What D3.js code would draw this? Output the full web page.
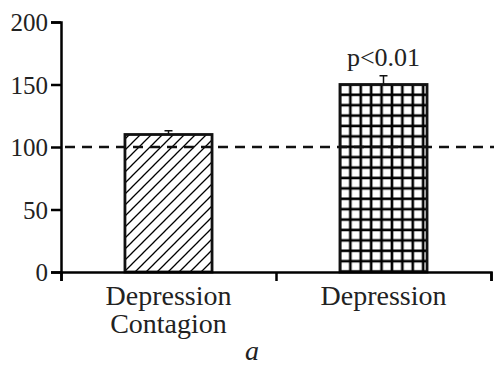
<!DOCTYPE html>
<html>
<head>
<meta charset="utf-8">
<script src="https://cdn.jsdelivr.net/npm/d3@7"></script>
<style>
  html, body { margin: 0; padding: 0; background: #fff; }
  svg { display: block; }
  svg text { font-family: 'Liberation Serif', 'Times New Roman', serif; }
</style>
</head>
<body>
<svg width="494" height="368"></svg>
<script>
// data
const categories = ['Depression Contagion', 'Depression']
const labelLines = [['Depression', 'Contagion'], ['Depression']]
const values = [110, 150]
const errors = [3, 7]
const patterns = ['hatch', 'grid']
const yTicks = [0, 50, 100, 150, 200]
const baseline = 100
const note = 'p<0.01'
const panel = 'a'

const margin = { top: 22, right: 3, bottom: 96, left: 61 }
const width = 494
const height = 368
const serif = "'Liberation Serif', 'Times New Roman', serif"

const svg = d3.select('svg')

const x = d3.scaleBand()
  .domain(categories)
  .range([margin.left, width - margin.right])
  .padding(0)

const y = d3.scaleLinear()
  .domain([0, 200])
  .range([height - margin.bottom, margin.top])

const barW = x.bandwidth() * 0.405

// fill patterns
const defs = svg.append('defs')
const hatch = defs.append('pattern')
  .attr('id', 'hatch')
  .attr('patternUnits', 'userSpaceOnUse')
  .attr('width', 11).attr('height', 11)
hatch.append('path')
  .attr('d', 'M-1,12 L12,-1 M-1,1 L1,-1 M10,12 L12,10')
  .attr('stroke', '#000').attr('stroke-width', 1.3)

const gs = 10.4
const grid = defs.append('pattern')
  .attr('id', 'grid')
  .attr('patternUnits', 'userSpaceOnUse')
  .attr('x', x(categories[1]) + (x.bandwidth() - barW) / 2)
  .attr('y', y(values[1]))
  .attr('width', gs).attr('height', gs)
grid.append('path')
  .attr('d', `M0,0V${gs} M${gs},0V${gs} M0,0H${gs} M0,${gs}H${gs}`)
  .attr('stroke', '#000').attr('stroke-width', 2.6)

// y axis
const yAxis = g => g
  .attr('transform', `translate(${margin.left},0)`)
  .call(d3.axisLeft(y).tickValues(yTicks).tickSize(10).tickPadding(3))
  .attr('font-family', serif)
  .call(g => g.select('.domain').attr('stroke-width', 2.5))
  .call(g => g.selectAll('.tick line').attr('stroke-width', 2.5))
  .call(g => g.selectAll('.tick text').attr('font-size', 25).attr('fill', '#222').attr('dy', '0.34em'))

// x axis: ticks sit on band edges
const xEdges = d3.scaleLinear().domain([0, categories.length]).range(x.range())
const xAxis = g => g
  .attr('transform', `translate(0,${y(0)})`)
  .call(d3.axisBottom(xEdges).tickValues(d3.range(categories.length + 1)).tickSize(9).tickFormat(''))
  .call(g => g.select('.domain').attr('stroke-width', 2.5))
  .call(g => g.selectAll('.tick line').attr('stroke-width', 2.5))

// bars
const bars = svg.append('g')
bars.selectAll('rect')
  .data(values)
  .join('rect')
  .attr('x', (d, i) => x(categories[i]) + (x.bandwidth() - barW) / 2)
  .attr('y', d => y(d))
  .attr('width', barW)
  .attr('height', d => y(0) - y(d))
  .attr('fill', (d, i) => `url(#${patterns[i]})`)
  .attr('stroke', '#111')
  .attr('stroke-width', 2.8)

// error bars (upper only)
const err = svg.append('g').attr('stroke', '#111').attr('stroke-width', 1.5)
values.forEach((v, i) => {
  const cx = x(categories[i]) + x.bandwidth() / 2
  err.append('line').attr('x1', cx).attr('x2', cx).attr('y1', y(v)).attr('y2', y(v + errors[i]))
  err.append('line').attr('x1', cx - 4).attr('x2', cx + 4).attr('y1', y(v + errors[i])).attr('y2', y(v + errors[i]))
})

// reference line
svg.append('line')
  .attr('x1', margin.left).attr('x2', width)
  .attr('y1', y(baseline)).attr('y2', y(baseline))
  .attr('stroke', '#111').attr('stroke-width', 2.5)
  .attr('stroke-dasharray', '10,7')
  .attr('stroke-dashoffset', -4)

svg.append('g').call(xAxis)
svg.append('g').call(yAxis)

// category labels
const labels = svg.append('g')
  .attr('font-family', serif)
  .attr('font-size', 28)
  .attr('fill', '#222')
  .attr('text-anchor', 'middle')
labelLines.forEach((lines, i) => {
  const t = labels.append('text')
    .attr('x', x(categories[i]) + x.bandwidth() / 2)
    .attr('y', y(0) + 33)
  lines.forEach((s, k) => {
    t.append('tspan')
      .attr('x', x(categories[i]) + x.bandwidth() / 2)
      .attr('dy', k === 0 ? 0 : 28)
      .text(s)
  })
})

// significance note
svg.append('text')
  .attr('x', x(categories[1]) + x.bandwidth() / 2)
  .attr('y', y(values[1] + errors[1]) - 10)
  .attr('text-anchor', 'middle')
  .attr('font-family', serif)
  .attr('font-size', 26)
  .attr('fill', '#222')
  .text(note)

// panel letter
svg.append('text')
  .attr('x', 252)
  .attr('y', 360)
  .attr('text-anchor', 'middle')
  .attr('font-family', serif)
  .attr('font-size', 28)
  .attr('font-style', 'italic')
  .attr('fill', '#222')
  .text(panel)
</script>
</body>
</html>
